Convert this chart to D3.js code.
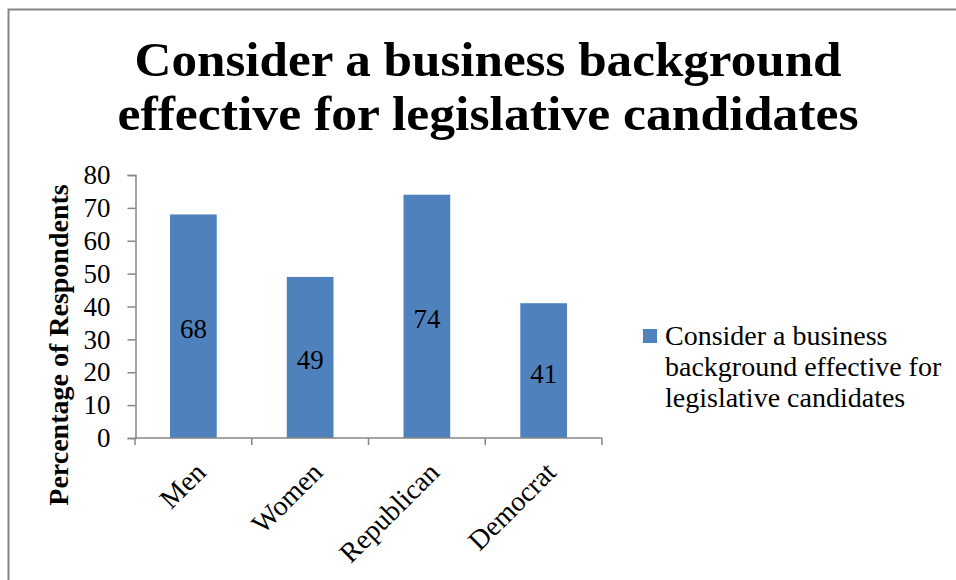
<!DOCTYPE html>
<html>
<head>
<meta charset="utf-8">
<script src="https://cdn.jsdelivr.net/npm/d3@7"></script>
<style>
  body { margin: 0; background: #fff; }
  text { font-family: "Liberation Serif", "DejaVu Serif", serif; }
</style>
</head>
<body>
<div id="chart"></div>
<script>
const categories = ["Men", "Women", "Republican", "Democrat"];
const values = [68, 49, 74, 41];
const titleLines = ["Consider a business background", "effective for legislative candidates"];
const legendLines = ["Consider a business", "background effective for", "legislative candidates"];
const yTicks = [0, 10, 20, 30, 40, 50, 60, 70, 80];

const width = 956, height = 580;
const barColor = "#4F81BD";
const axisColor = "#868686";

const svg = d3.select("#chart")
  .append("svg")
  .attr("width", width)
  .attr("height", height);

// outer frame
svg.append("rect")
  .attr("x", 8.5).attr("y", 9.5)
  .attr("width", 960).attr("height", 600)
  .attr("fill", "#fff")
  .attr("stroke", axisColor)
  .attr("stroke-width", 2);

// title, stretched to the width of the original font
const titleWidths = [707, 741];
svg.selectAll("text.title")
  .data(titleLines)
  .enter()
  .append("text")
  .attr("class", "title")
  .attr("x", 488)
  .attr("y", (d, i) => 76 + i * 54)
  .attr("text-anchor", "middle")
  .attr("font-size", 48)
  .attr("font-weight", "bold")
  .attr("textLength", (d, i) => titleWidths[i])
  .attr("lengthAdjust", "spacingAndGlyphs")
  .text(d => d);

const x = d3.scaleBand()
  .domain(categories)
  .range([135, 602])
  .paddingInner(0.6)
  .paddingOuter(0.3);

const y = d3.scaleLinear()
  .domain([0, 80])
  .range([438, 175]);

// y axis
const yAxis = svg.append("g")
  .attr("transform", "translate(135.5,0)")
  .call(d3.axisLeft(y).tickValues(yTicks).tickSize(8).tickPadding(17));
yAxis.select(".domain").attr("stroke", axisColor).attr("stroke-width", 1.5);
yAxis.selectAll(".tick line").attr("stroke", axisColor).attr("stroke-width", 1.5);
yAxis.selectAll(".tick text")
  .attr("font-family", "Liberation Serif")
  .attr("font-size", 27)
  .attr("fill", "#000");

// bars
svg.selectAll("rect.bar")
  .data(values)
  .enter()
  .append("rect")
  .attr("class", "bar")
  .attr("x", (d, i) => x(categories[i]))
  .attr("y", d => y(d))
  .attr("width", x.bandwidth())
  .attr("height", d => y(0) - y(d))
  .attr("fill", barColor);

// x axis with ticks between categories
const xAxisG = svg.append("g");
xAxisG.append("line")
  .attr("x1", 135).attr("x2", 602)
  .attr("y1", y(0)).attr("y2", y(0))
  .attr("stroke", axisColor).attr("stroke-width", 1.5);
const bstep = (x.range()[1] - x.range()[0]) / categories.length;
xAxisG.selectAll("line.tk")
  .data(d3.range(categories.length + 1))
  .enter()
  .append("line")
  .attr("class", "tk")
  .attr("x1", i => x.range()[0] + i * bstep).attr("x2", i => x.range()[0] + i * bstep)
  .attr("y1", y(0)).attr("y2", y(0) + 7)
  .attr("stroke", axisColor).attr("stroke-width", 1.5);

// category labels rotated
svg.selectAll("text.cat")
  .data(categories)
  .enter()
  .append("text")
  .attr("class", "cat")
  .attr("text-anchor", "end")
  .attr("font-size", 28)
  .attr("transform", d => `translate(${x(d) + x.bandwidth() / 2 + 14},${y(0) + 36}) rotate(-45)`)
  .text(d => d);

// data labels
svg.selectAll("text.val")
  .data(values)
  .enter()
  .append("text")
  .attr("class", "val")
  .attr("text-anchor", "middle")
  .attr("font-size", 27)
  .attr("x", (d, i) => x(categories[i]) + x.bandwidth() / 2)
  .attr("y", d => (y(d) + y(0)) / 2 + 12)
  .text(d => d);

// y axis title
svg.append("text")
  .attr("transform", "translate(68,345) rotate(-90)")
  .attr("text-anchor", "middle")
  .attr("font-size", 28)
  .attr("font-weight", "bold")
  .text("Percentage of Respondents");

// legend
const legend = svg.append("g").attr("class", "legend");
legend.append("rect")
  .attr("x", 643).attr("y", 329)
  .attr("width", 14).attr("height", 14)
  .attr("fill", barColor);
legend.selectAll("text")
  .data(legendLines)
  .enter()
  .append("text")
  .attr("x", 665)
  .attr("y", (d, i) => 345 + i * 31)
  .attr("font-size", 28)
  .text(d => d);
</script>
</body>
</html>
